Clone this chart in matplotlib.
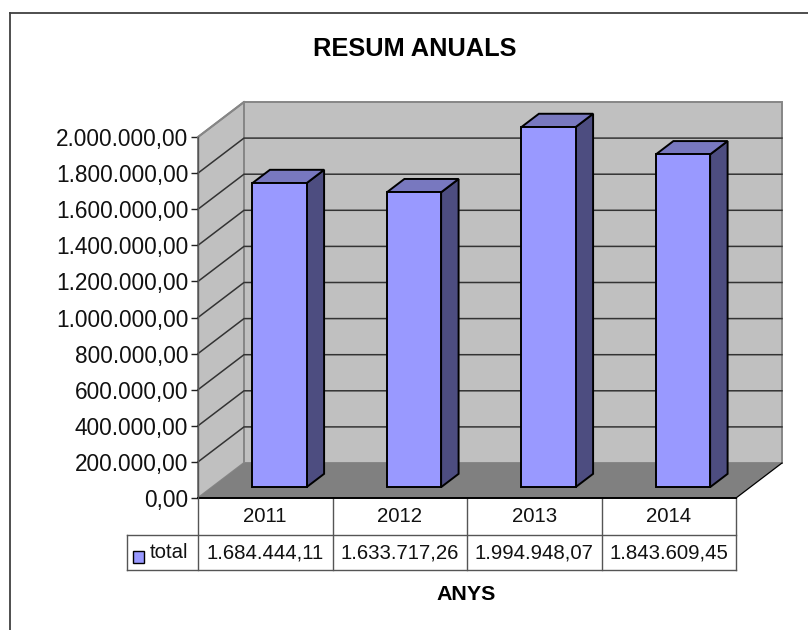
import matplotlib
matplotlib.use('Agg')
import matplotlib.pyplot as plt
from matplotlib.lines import Line2D
from matplotlib.patches import Polygon, Rectangle

plt.rcParams['font.family'] = ['Liberation Sans', 'DejaVu Sans']

# Data
years = ['2011', '2012', '2013', '2014']
totals = [1684444.11, 1633717.26, 1994948.07, 1843609.45]
total_labels = ['1.684.444,11', '1.633.717,26', '1.994.948,07', '1.843.609,45']
value_ticks = [0, 200000, 400000, 600000, 800000, 1000000,
               1200000, 1400000, 1600000, 1800000, 2000000]
tick_labels = ['0,00', '200.000,00', '400.000,00', '600.000,00', '800.000,00',
               '1.000.000,00', '1.200.000,00', '1.400.000,00', '1.600.000,00',
               '1.800.000,00', '2.000.000,00']

W, H = 808, 630
fig = plt.figure(figsize=(W / 100, H / 100), dpi=100)

# the axes is the front plane of the 3d box, everything else is offset from it
left, right, top, bottom = 198, 736, 137, 498
ax = fig.add_axes([left / W, 1 - bottom / H, (right - left) / W, (bottom - top) / H])
ax.set_xlim(0, 4)
ax.set_ylim(0, 2000000)
ax.patch.set_visible(False)
for s in ['top', 'right', 'bottom']:
    ax.spines[s].set_visible(False)
ax.spines['left'].set_color('#555555')
ax.spines['left'].set_linewidth(1.0)
ax.set_xticks([])
ax.set_yticks(value_ticks)
ax.set_yticklabels(tick_labels, fontsize=16.3, color='#111111')
ax.tick_params(axis='y', length=5, width=1.0, pad=2, color='#222222')

# depth of the box in data units
px_x = 4 / (right - left)
px_y = 2000000 / (bottom - top)
dx = 46 * px_x
dy = 35 * px_y


def poly(pts, fc, ec='none', lw=0, z=1):
    ax.add_patch(Polygon(pts, closed=True, facecolor=fc, edgecolor=ec, linewidth=lw,
                         zorder=z, clip_on=False, joinstyle='miter'))


# walls and floor
poly([(0, 0), (dx, dy), (dx, 2000000 + dy), (0, 2000000)], '#c0c0c0', '#868686', 1.4)
poly([(dx, dy), (4 + dx, dy), (4 + dx, 2000000 + dy), (dx, 2000000 + dy)], '#c0c0c0', '#868686', 1.4)
poly([(0, 0), (4, 0), (4 + dx, dy), (dx, dy)], '#808080', z=1.5)

# gridlines on both walls
for v in value_ticks[1:-1]:
    ax.plot([0, dx, 4 + dx], [v, v + dy, v + dy], color='#333333', lw=1.1, zorder=2,
            clip_on=False, solid_joinstyle='miter')
ax.plot([0, dx], [2000000, 2000000 + dy], color='#868686', lw=1.4, zorder=2, clip_on=False)
ax.plot([4, 4 + dx], [0, dy], color='#000000', lw=0.9, zorder=2, clip_on=False)
ax.plot([0, 4], [0, 0], color='#000000', lw=1.4, zorder=2.5, clip_on=False)

# bars
bar_w = 0.403
bar_front = 0.31
bar_depth = 0.38
for i, val in enumerate(totals):
    x0 = i + 0.5 - bar_w / 2 + bar_front * dx
    x1 = x0 + bar_w
    y0 = bar_front * dy
    y1 = y0 + val
    ox = bar_depth * dx
    oy = bar_depth * dy
    poly([(x1, y0), (x1 + ox, y0 + oy), (x1 + ox, y1 + oy), (x1, y1)], '#4d4d80', '#000000', 1.4, 3)
    poly([(x0, y1), (x1, y1), (x1 + ox, y1 + oy), (x0 + ox, y1 + oy)], '#7878bf', '#000000', 1.4, 3)
    ax.add_patch(Rectangle((x0, y0), bar_w, val, facecolor='#9999ff', edgecolor='#000000',
                           linewidth=1.4, zorder=4, clip_on=False))

# data table under the chart
row1 = -36.5 * px_y
row2 = -72 * px_y
leg_x = -71.5 * px_x
tcol = '#555555'
for i in range(5):
    ax.plot([i, i], [0, row2], color=tcol, lw=1.0, clip_on=False, zorder=2)
ax.plot([leg_x, 4], [row1, row1], color=tcol, lw=1.0, clip_on=False, zorder=2)
ax.plot([leg_x, 4], [row2, row2], color=tcol, lw=1.0, clip_on=False, zorder=2)
ax.plot([leg_x, leg_x], [row1, row2], color=tcol, lw=1.0, clip_on=False, zorder=2)
for i in range(4):
    ax.text(i + 0.5, row1 / 2, years[i], ha='center', va='center', fontsize=14.7, color='#111111')
    ax.text(i + 0.5, (row1 + row2) / 2 - 0.6 * px_y, total_labels[i], ha='center', va='center',
            fontsize=14.7, color='#111111')
ax.add_patch(Rectangle((leg_x + 6 * px_x, -64.5 * px_y), 11 * px_x, 12 * px_y,
                       facecolor='#9999ff', edgecolor='#000000', linewidth=1.0, clip_on=False))
ax.text(leg_x + 23 * px_x, (row1 + row2) / 2 - 0.6 * px_y, 'total', ha='left', va='center',
        fontsize=14.7, color='#111111')

# only the top and left edges of the chart frame are inside the crop
fig.add_artist(Line2D([10 / W, 10 / W], [0, 1 - 13 / H], color='#404040', lw=1.3))
fig.add_artist(Line2D([10 / W, 1], [1 - 13 / H, 1 - 13 / H], color='#404040', lw=1.3))
fig.text(415 / W, 1 - 49 / H, 'RESUM ANUALS', ha='center', va='center', fontsize=18.3, fontweight='bold')
fig.text(466 / W, 1 - 594 / H, 'ANYS', ha='center', va='center', fontsize=15.4, fontweight='bold')

fig.savefig('out.png', dpi=100)
